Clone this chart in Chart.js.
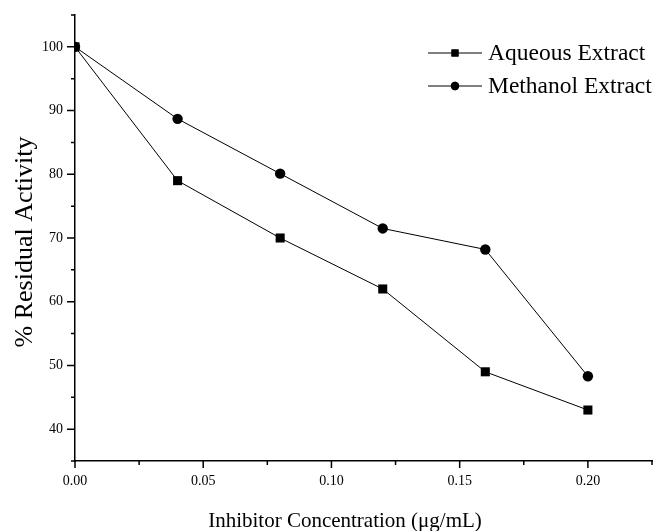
<!DOCTYPE html>
<html>
<head>
<meta charset="utf-8">
<script src="https://cdn.jsdelivr.net/npm/chart.js@4/dist/chart.umd.min.js"></script>
<style>
  html, body { margin: 0; padding: 0; background: #fff; }
  #wrap { width: 661px; height: 531px; position: relative; }
</style>
</head>
<body>
<div id="wrap"><canvas id="chart"></canvas></div>
<script>
const concentrations = [0.00, 0.04, 0.08, 0.12, 0.16, 0.20];
const aqueousValues = [100, 79, 70, 62, 49, 43];
const methanolValues = [100, 88.7, 80.1, 71.5, 68.2, 48.3];
const seriesNames = ['Aqueous Extract', 'Methanol Extract'];
const xTitle = 'Inhibitor Concentration (\u03bcg/mL)';
const yTitle = '% Residual Activity';

const serif = '"Liberation Serif", "Times New Roman", serif';

const toPoints = vals => vals.map((v, i) => ({ x: concentrations[i], y: v }));

// tick marks (major + minor), axis titles and legend drawn on top
const decor = {
    id: 'decor',
    afterDraw(chart) {
        const ctx = chart.ctx;
        const { x, y } = chart.scales;
        const area = chart.chartArea;
        ctx.save();
        ctx.strokeStyle = '#000';
        ctx.lineWidth = 1.5;
        ctx.beginPath();
        x.ticks.forEach(t => {
            const px = x.getPixelForValue(t.value);
            const major = Math.round(t.value * 1000) % 50 === 0;
            ctx.moveTo(px, area.bottom);
            ctx.lineTo(px, area.bottom + (major ? 7 : 4));
        });
        y.ticks.forEach(t => {
            const py = y.getPixelForValue(t.value);
            const major = Math.round(t.value) % 10 === 0;
            ctx.moveTo(area.left, py);
            ctx.lineTo(area.left - (major ? 8 : 4), py);
        });
        ctx.stroke();

        ctx.fillStyle = '#000';
        ctx.font = '21px ' + serif;
        ctx.textAlign = 'center';
        ctx.textBaseline = 'alphabetic';
        ctx.fillText(xTitle, 345, 527);
        ctx.font = '26px ' + serif;
        ctx.translate(32, 242);
        ctx.rotate(-Math.PI / 2);
        ctx.fillText(yTitle, 0, 0);
        ctx.setTransform(1, 0, 0, 1, 0, 0);

        // legend
        const rows = [53, 86];
        chart.data.datasets.forEach((ds, i) => {
            const ly = rows[i];
            ctx.lineWidth = 1;
            ctx.beginPath();
            ctx.moveTo(428, ly);
            ctx.lineTo(482, ly);
            ctx.stroke();
            Chart.helpers.drawPoint(ctx, {
                pointStyle: ds.pointStyle, radius: ds.legendRadius, borderWidth: 0
            }, 455, ly);
            ctx.fill();
            ctx.textAlign = 'left';
            ctx.textBaseline = 'middle';
            ctx.font = '23.5px ' + serif;
            ctx.fillText(ds.label, 488, ly + 1);
        });
        ctx.restore();
    }
};

new Chart(document.getElementById('chart'), {
    type: 'line',
    data: {
        datasets: [
            {
                label: seriesNames[0], data: toPoints(aqueousValues),
                borderColor: '#000', backgroundColor: '#000', borderWidth: 1,
                pointStyle: 'rect', pointRadius: 6.4, legendRadius: 5, pointBorderWidth: 0
            },
            {
                label: seriesNames[1], data: toPoints(methanolValues),
                borderColor: '#000', backgroundColor: '#000', borderWidth: 1,
                pointStyle: 'circle', pointRadius: 5.2, legendRadius: 4.2, pointBorderWidth: 0
            }
        ]
    },
    options: {
        responsive: true,
        maintainAspectRatio: false,
        animation: false,
        layout: { padding: { left: 0, top: 15, right: 9, bottom: 0 } },
        plugins: { legend: { display: false }, tooltip: { enabled: false } },
        scales: {
            x: {
                type: 'linear', min: 0, max: 0.225,
                grid: { display: false, drawTicks: false },
                border: { display: true, color: '#000', width: 1.5 },
                afterFit: s => { s.height = 70; s.paddingLeft = 0; s.paddingRight = 0; },
                afterBuildTicks: s => {
                    s.ticks = [];
                    for (let i = 0; i <= 9; i++) s.ticks.push({ value: i * 0.025 });
                },
                ticks: {
                    padding: 12, color: '#000', maxRotation: 0, autoSkip: false,
                    font: { family: serif, size: 14 },
                    callback: v => (Math.round(v * 1000) % 50 === 0 ? v.toFixed(2) : '')
                }
            },
            y: {
                type: 'linear', min: 35, max: 105,
                grid: { display: false, drawTicks: false },
                border: { display: true, color: '#000', width: 1.5 },
                afterFit: s => { s.width = 75; s.paddingTop = 0; s.paddingBottom = 0; },
                ticks: {
                    stepSize: 5, padding: 12, color: '#000', autoSkip: false,
                    font: { family: serif, size: 14 },
                    callback: v => (v % 10 === 0 && v >= 40 && v <= 100 ? String(v) : '')
                }
            }
        }
    },
    plugins: [decor]
});
</script>
</body>
</html>
